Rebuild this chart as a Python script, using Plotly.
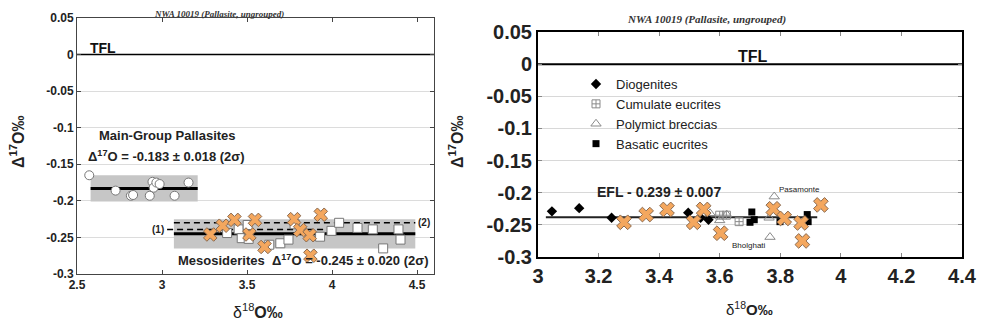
import plotly.graph_objects as go

# ---------------- data ----------------
# Left panel: main-group pallasites (open circles)
pmg_d18 = [2.572, 2.727, 2.817, 2.830, 2.928, 2.944, 2.951, 2.967, 2.986, 3.074, 3.156]
pmg_D17 = [-0.165, -0.186, -0.193, -0.192, -0.193, -0.174, -0.182, -0.175, -0.177, -0.193, -0.175]

# Left panel: mesosiderites (open squares)
meso_d18 = [3.383, 3.451, 3.469, 3.504, 3.510, 3.631, 3.696, 3.744, 3.780, 3.930, 3.997,
            4.042, 4.150, 4.240, 4.301, 4.391, 4.403]
meso_D17 = [-0.244, -0.239, -0.251, -0.233, -0.252, -0.260, -0.258, -0.253, -0.232, -0.249, -0.241,
            -0.230, -0.237, -0.239, -0.265, -0.239, -0.253]

# NWA 10019 (orange crosses), both panels
nwa_d18 = [3.284, 3.357, 3.426, 3.514, 3.547, 3.603, 3.777, 3.813, 3.869, 3.873, 3.934]
nwa_D17 = [-0.246, -0.234, -0.226, -0.246, -0.226, -0.263, -0.225, -0.240, -0.247, -0.275, -0.219]

# Right panel: HED groups
dio_d18 = [3.046, 3.136, 3.243, 3.496, 3.537, 3.563]
dio_D17 = [-0.229, -0.224, -0.239, -0.231, -0.239, -0.242]
cum_d18 = [3.600, 3.622, 3.664]
cum_D17 = [-0.235, -0.235, -0.245]
poly_d18 = [3.568, 3.600, 3.623, 3.763, 3.766, 3.780]
poly_D17 = [-0.232, -0.243, -0.234, -0.239, -0.269, -0.206]
bas_d18 = [3.700, 3.706, 3.714, 3.799, 3.889, 3.892]
bas_D17 = [-0.246, -0.230, -0.242, -0.245, -0.234, -0.245]

# Reference lines / bands
TFL = 0.0
PMG_MEAN, PMG_2SIG, PMG_X = -0.183, 0.018, [2.58, 3.21]
MES_MEAN, MES_2SIG, MES_X = -0.245, 0.020, [3.07, 4.49]
LINE1, LINE1_X = -0.239, [3.03, 3.99]
LINE2, LINE2_X = -0.230, [3.07, 4.49]
EFL, EFL_X = -0.238, [3.026, 3.922]

left_xticks = [2.5, 3, 3.5, 4, 4.5]
left_xtick_text = ["2.5", "3", "3.5", "4", "4.5"]
right_xticks = [3, 3.2, 3.4, 3.6, 3.8, 4, 4.2, 4.4]
yticks = [0.05, 0, -0.05, -0.1, -0.15, -0.2, -0.25, -0.3]
ytick_text = ["0.05", "0", "-0.05", "-0.1", "-0.15", "-0.2", "-0.25", "-0.3"]

W, H = 981, 327
FONT = "Liberation Sans, Arial, sans-serif"
SERIF = "Liberation Serif, Times New Roman, serif"
ORANGE = "#F4A75E"
BAND = "#c6c6c6"

fig = go.Figure()

def band(xr, mean, sig, xa, ya):
    fig.add_trace(go.Scatter(
        x=[xr[0], xr[1], xr[1], xr[0], xr[0]],
        y=[mean + sig, mean + sig, mean - sig, mean - sig, mean + sig],
        fill="toself", fillcolor=BAND, line=dict(width=0), mode="lines",
        hoverinfo="skip", showlegend=False, xaxis=xa, yaxis=ya))

def hline(xr, yv, xa, ya, width=3, dash="solid", color="black"):
    fig.add_trace(go.Scatter(
        x=xr, y=[yv, yv], mode="lines", line=dict(color=color, width=width, dash=dash),
        hoverinfo="skip", showlegend=False, xaxis=xa, yaxis=ya))

# ---- left panel ----
band(PMG_X, PMG_MEAN, PMG_2SIG, "x", "y")
band(MES_X, MES_MEAN, MES_2SIG, "x", "y")
hline([2.5, 4.6], TFL, "x", "y", width=1.5)
hline(PMG_X, PMG_MEAN, "x", "y", width=3)
hline(MES_X, MES_MEAN, "x", "y", width=3)
hline(LINE1_X, LINE1, "x", "y", width=1.5, dash="6px,4px")
hline(LINE2_X, LINE2, "x", "y", width=1.5, dash="6px,4px")

fig.add_trace(go.Scatter(x=pmg_d18, y=pmg_D17, mode="markers", showlegend=False,
                         marker=dict(symbol="circle", size=9, color="white",
                                     line=dict(color="#777", width=1)),
                         xaxis="x", yaxis="y", name="Main-Group Pallasites"))
fig.add_trace(go.Scatter(x=meso_d18, y=meso_D17, mode="markers", showlegend=False,
                         marker=dict(symbol="square", size=9, color="white",
                                     line=dict(color="#777", width=1)),
                         xaxis="x", yaxis="y", name="Mesosiderites"))
fig.add_trace(go.Scatter(x=nwa_d18, y=nwa_D17, mode="markers", showlegend=False,
                         marker=dict(symbol="x", size=12, color=ORANGE,
                                     line=dict(color="#8a6a50", width=1)),
                         xaxis="x", yaxis="y", name="NWA 10019"))

# ---- right panel ----
hline([3.0, 4.4], TFL, "x2", "y2", width=2)
hline(EFL_X, EFL, "x2", "y2", width=2, color="#222")

fig.add_trace(go.Scatter(x=dio_d18, y=dio_D17, mode="markers", name="Diogenites",
                         marker=dict(symbol="diamond", size=8, color="black"),
                         xaxis="x2", yaxis="y2"))
fig.add_trace(go.Scatter(x=cum_d18, y=cum_D17, mode="markers", name="Cumulate eucrites",
                         marker=dict(symbol="square-cross-open", size=8, color="#8a8a8a",
                                     line=dict(width=1)),
                         xaxis="x2", yaxis="y2"))
fig.add_trace(go.Scatter(x=poly_d18, y=poly_D17, mode="markers", name="Polymict breccias",
                         marker=dict(symbol="triangle-up-open", size=9, color="#8a8a8a",
                                     line=dict(width=1)),
                         xaxis="x2", yaxis="y2"))
fig.add_trace(go.Scatter(x=bas_d18, y=bas_D17, mode="markers", name="Basatic eucrites",
                         marker=dict(symbol="square", size=7, color="black"),
                         xaxis="x2", yaxis="y2"))
fig.add_trace(go.Scatter(x=nwa_d18, y=nwa_D17, mode="markers", showlegend=False,
                         marker=dict(symbol="x", size=13, color=ORANGE,
                                     line=dict(color="#8a6a50", width=1)),
                         xaxis="x2", yaxis="y2", name="NWA 10019"))

def px_x(p):
    return p / W

def px_y(p):
    return 1 - p / H

axis_common = dict(zeroline=False, ticks="inside", ticklen=4,
                   mirror="ticks", showline=True, automargin=False)

fig.update_layout(
    width=W, height=H, margin=dict(l=0, r=0, t=0, b=0, autoexpand=False),
    paper_bgcolor="white", plot_bgcolor="white",
    font=dict(family=FONT, color="#222"),
    xaxis=dict(domain=[px_x(77), px_x(434)], range=[2.5, 4.6], tickvals=left_xticks,
               ticktext=[f"<b>{t}</b>" for t in left_xtick_text], anchor="y", showgrid=False,
               tickfont=dict(size=12, family=FONT, color="#222"),
               linecolor="#444", linewidth=1, tickcolor="#444", **axis_common),
    yaxis=dict(domain=[px_y(274), px_y(18)], range=[-0.3, 0.05], tickvals=yticks,
               ticktext=[f"<b>{t}</b>" for t in ytick_text], anchor="x",
               tickfont=dict(size=12, family=FONT, color="#222"),
               linecolor="#444", linewidth=1, tickcolor="#444",
               showgrid=True, gridcolor="#dcdcdc", gridwidth=1, **axis_common),
    xaxis2=dict(domain=[px_x(538), px_x(962)], range=[3.0, 4.4], tickvals=right_xticks,
                ticktext=[f"<b>{v:g}</b>" for v in right_xticks], anchor="y2", showgrid=False,
                tickfont=dict(size=20, family=FONT, color="#222"),
                linecolor="black", linewidth=2, tickcolor="#888", **axis_common),
    yaxis2=dict(domain=[px_y(257), px_y(32)], range=[-0.3, 0.05], tickvals=yticks,
                ticktext=[f"<b>{t}</b>" for t in ytick_text], anchor="x2",
                tickfont=dict(size=20, family=FONT, color="#222"),
                linecolor="black", linewidth=2, tickcolor="#888",
                showgrid=True, gridcolor="#d8d8d8", gridwidth=1, **axis_common),
    legend=dict(x=px_x(576), y=px_y(69), xanchor="left", yanchor="top",
                bgcolor="rgba(0,0,0,0)", font=dict(size=13, family=FONT, color="#222"),
                itemwidth=30, tracegroupgap=0),
)

ann = []

def add(text, x, y, size, xref="paper", yref="paper", xanchor="center", family=FONT,
        color="#222", angle=0):
    if xref == "paper":
        x, y = px_x(x), px_y(y)
    ann.append(dict(text=text, xref=xref, yref=yref, x=x, y=y, xanchor=xanchor,
                    yanchor="middle", textangle=angle, showarrow=False,
                    font=dict(size=size, family=family, color=color)))

# titles
add("<b><i>NWA 10019 (Pallasite, ungrouped)</i></b>", 219, 14, 9, family=SERIF, color="#333")
add("<b><i>NWA 10019 (Pallasite, ungrouped)</i></b>", 706, 19, 11, family=SERIF, color="#333")
# axis titles
add("<b>Δ<sup>17</sup>O‰</b>", 17, 142, 16, angle=-90)
add("<b>Δ<sup>17</sup>O‰</b>", 456, 142, 16, angle=-90)
add("δ<sup>18</sup><b>O‰</b>", 258, 311, 16)
add("δ<sup>18</sup><b>O‰</b>", 749, 308, 15)
# left panel labels
add("<b>TFL</b>", 2.565, 0.0095, 14, "x", "y", "left", color="#111")
add("<b>Main-Group Pallasites</b>", 2.615, -0.110, 13, "x", "y", "left")
add("<b>Δ<sup>17</sup>O = -0.183 ± 0.018 (2σ)</b>", 2.553, -0.139, 13, "x", "y", "left")
add("<b>Mesosiderites  Δ<sup>17</sup>O = -0.245 ± 0.020 (2σ)</b>", 3.08, -0.281, 13, "x", "y", "left")
add("<b>(1)</b>", 3.025, -0.2395, 10, "x", "y", "right")
add("<b>(2)</b>", 4.495, -0.2295, 10, "x", "y", "left")
# right panel labels
add("<b>TFL</b>", 3.71, 0.012, 16, "x2", "y2", "center", color="#111")
add("<b>EFL - 0.239 ± 0.007</b>", 3.40, -0.199, 14, "x2", "y2", "center")
add("Pasamonte", 3.788, -0.195, 8, "x2", "y2", "left")
add("Bholghati", 3.697, -0.2815, 8, "x2", "y2", "center")

fig.update_layout(annotations=ann)
fig.write_html("out.html")
